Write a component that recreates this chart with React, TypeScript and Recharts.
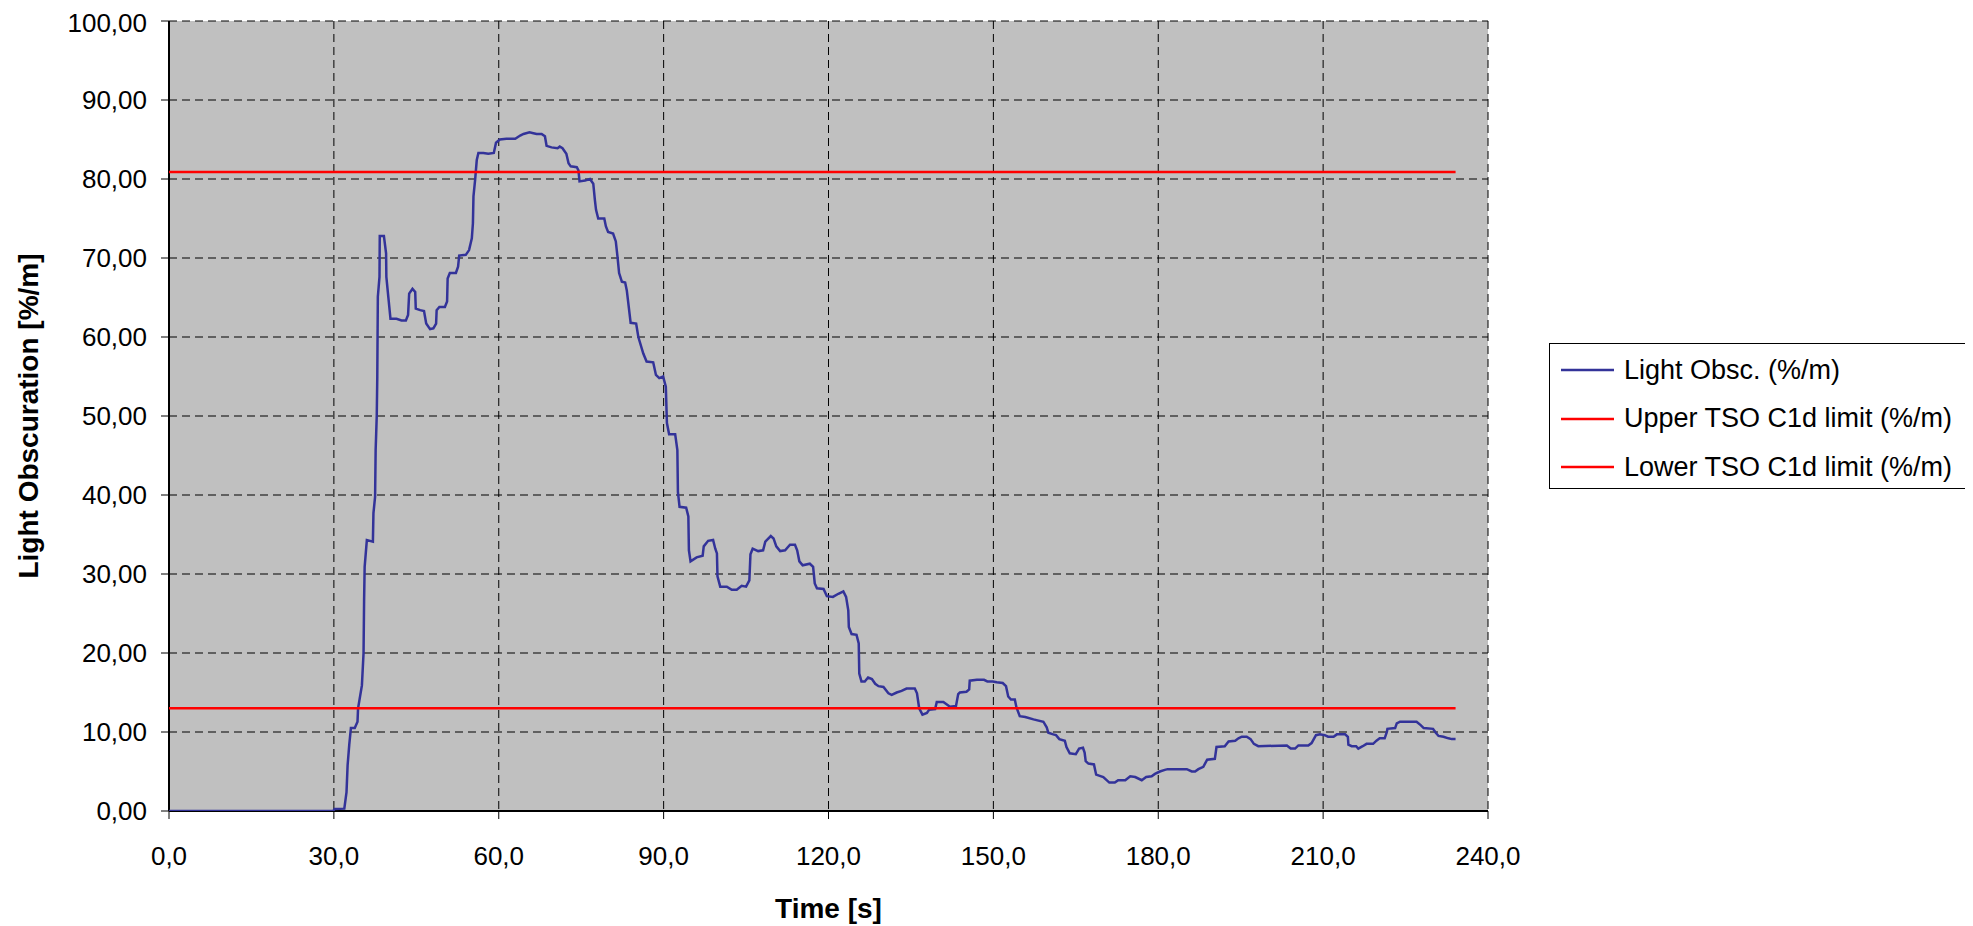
import React from 'react';
import { LineChart, Line, XAxis, YAxis, CartesianGrid, Legend } from 'recharts';

const timeSeconds = [
  0, 29.9, 30.1, 31.9, 32.3, 32.5, 32.8, 33.1, 33.8, 34.3, 34.4, 35.1, 35.4, 35.5, 35.6, 36.0, 37.1, 37.2, 37.5, 37.6,
  37.7, 37.8, 37.9, 38.0, 38.3, 38.35, 39.1, 39.5, 39.55, 39.9, 40.3, 41.4, 42.3, 43.1, 43.5, 43.7, 44.3, 44.8, 44.9, 45.7,
  46.4, 46.8, 47.5, 48.1, 48.6, 48.7, 49.2, 50.2, 50.6, 50.7, 51.1, 52.2, 52.6, 52.8, 54.0, 54.6, 55.1, 55.3, 55.4, 55.7,
  56.0, 56.3, 57.2, 58.1, 59.1, 59.5, 60.2, 61.4, 63.0, 63.9, 64.5, 65.6, 66.3, 66.9, 67.8, 68.4, 68.7, 69.6, 70.7, 71.1,
  71.6, 72.3, 72.7, 73.1, 74.2, 74.5, 74.7, 75.7, 76.6, 77.2, 77.5, 77.7, 78.1, 79.2, 79.5, 79.9, 80.8, 81.3, 81.6, 81.9,
  82.4, 83.0, 83.3, 84.0, 85.0, 85.4, 86.3, 86.9, 88.1, 88.6, 89.2, 89.9, 90.4, 90.6, 91.0, 92.1, 92.5, 92.6, 92.9, 94.1,
  94.5, 94.6, 94.9, 96.0, 97.1, 97.3, 98.1, 99.0, 99.4, 99.7, 99.8, 100.3, 101.5, 102.4, 103.3, 104.2, 105.0, 105.6, 105.8, 106.2,
  107.2, 108.1, 108.5, 109.5, 110.0, 110.5, 111.2, 112.1, 113.0, 113.9, 114.3, 114.7, 115.3, 116.6, 117.2, 117.5, 117.9, 119.1, 119.7, 120.8,
  121.8, 122.7, 123.2, 123.6, 123.7, 124.2, 125.1, 125.5, 125.6, 126.0, 126.6, 127.2, 127.9, 128.5, 129.1, 130.0, 130.9, 131.5, 132.4, 133.3,
  134.2, 135.7, 136.1, 136.5, 137.1, 137.9, 138.3, 139.4, 139.7, 140.9, 142.1, 143.2, 143.6, 143.9, 145.1, 145.6, 145.7, 147.0, 148.3, 148.9,
  149.9, 150.6, 151.7, 152.3, 152.7, 153.2, 153.9, 154.2, 154.8, 155.8, 157.3, 159.1, 159.7, 160.0, 160.9, 161.4, 162.0, 163.0, 163.3, 163.9,
  165.0, 165.6, 166.3, 166.6, 166.8, 167.3, 168.3, 168.7, 170.0, 171.1, 172.1, 172.7, 174.0, 174.9, 175.8, 177.0, 177.8, 178.8, 179.4, 180.3,
  181.2, 181.7, 185.2, 186.1, 186.7, 187.3, 188.2, 188.9, 190.3, 190.6, 192.1, 192.8, 194.0, 194.6, 195.2, 196.1, 196.8, 197.4, 198.2, 203.4,
  204.1, 204.9, 205.5, 207.3, 207.9, 208.7, 209.4, 210.3, 210.9, 211.9, 212.5, 214.0, 214.5, 214.6, 215.2, 216.0, 216.4, 217.2, 217.9, 219.1,
  219.7, 220.3, 221.2, 221.6, 221.7, 223.1, 223.4, 224.0, 227.0, 227.7, 228.3, 230.0, 230.5, 231.0, 231.9, 232.8, 233.4, 234.1,
];

const lightObscuration = [
  0, 0, 0.25, 0.3, 2.4, 5.8, 8.4, 10.5, 10.5, 11.3, 13.0, 15.9, 20.0, 26.7, 30.9, 34.3, 34.1, 37.7, 39.8, 45.7,
  47.8, 50.0, 55.0, 65.1, 67.6, 72.8, 72.8, 70.6, 67.6, 65.1, 62.3, 62.3, 62.1, 62.1, 62.8, 65.5, 66.1, 65.7, 63.6, 63.4,
  63.3, 61.7, 61.0, 61.1, 61.7, 63.4, 63.8, 63.8, 64.5, 67.4, 68.1, 68.1, 68.9, 70.3, 70.4, 71.0, 72.5, 74.4, 77.8, 79.9,
  82.4, 83.3, 83.3, 83.2, 83.3, 84.6, 85.0, 85.1, 85.1, 85.5, 85.7, 85.9, 85.8, 85.7, 85.7, 85.4, 84.2, 84.0, 83.9, 84.1,
  83.9, 83.2, 82.0, 81.6, 81.5, 81.1, 79.7, 79.8, 80.0, 79.4, 77.3, 76.1, 75.0, 75.0, 74.0, 73.3, 73.1, 72.1, 70.2, 68.1,
  67.0, 66.9, 65.9, 61.8, 61.7, 60.0, 57.9, 56.9, 56.8, 55.2, 54.8, 55.0, 53.7, 49.1, 47.7, 47.7, 45.7, 40.4, 38.5, 38.4,
  37.3, 33.0, 31.6, 32.1, 32.3, 33.5, 34.2, 34.3, 33.2, 32.6, 29.7, 28.4, 28.4, 28.0, 28.0, 28.5, 28.4, 29.2, 32.5, 33.2,
  32.9, 33.0, 34.1, 34.8, 34.5, 33.5, 32.9, 33.0, 33.7, 33.7, 33.0, 31.6, 31.1, 31.3, 30.9, 28.8, 28.2, 28.1, 27.2, 27.1,
  27.5, 27.8, 27.1, 25.4, 23.3, 22.4, 22.3, 21.2, 17.4, 16.4, 16.4, 16.9, 16.7, 16.1, 15.8, 15.7, 14.9, 14.7, 15.0, 15.2,
  15.5, 15.5, 14.9, 13.0, 12.2, 12.4, 12.8, 12.9, 13.8, 13.8, 13.2, 13.3, 14.8, 15.0, 15.1, 15.4, 16.5, 16.6, 16.6, 16.4,
  16.4, 16.3, 16.2, 15.8, 14.5, 14.1, 14.1, 13.1, 12.0, 11.9, 11.6, 11.3, 10.6, 9.9, 9.7, 9.6, 9.1, 8.9, 8.1, 7.3,
  7.2, 7.9, 8.0, 7.4, 6.3, 6.0, 5.9, 4.6, 4.3, 3.6, 3.6, 3.9, 3.9, 4.4, 4.3, 3.9, 4.3, 4.4, 4.7, 5.0,
  5.2, 5.3, 5.3, 5.0, 5.0, 5.3, 5.6, 6.5, 6.6, 8.1, 8.2, 8.8, 8.9, 9.2, 9.4, 9.4, 9.1, 8.5, 8.2, 8.3,
  7.9, 7.9, 8.3, 8.3, 8.6, 9.6, 9.7, 9.6, 9.4, 9.4, 9.7, 9.7, 9.4, 8.4, 8.2, 8.2, 7.9, 8.2, 8.5, 8.5,
  8.9, 9.2, 9.2, 10.0, 10.4, 10.5, 11.1, 11.3, 11.3, 10.9, 10.5, 10.4, 9.9, 9.5, 9.4, 9.2, 9.1, 9.1,
];

const limitTimes = [0, 234.1];
const upperLimit = [80.9, 80.9];
const lowerLimit = [13.0, 13.0];

const xTicks = [0, 30, 60, 90, 120, 150, 180, 210, 240];
const yTicks = [0, 10, 20, 30, 40, 50, 60, 70, 80, 90, 100];

const seriesNames = ['Light Obsc. (%/m)', 'Upper TSO C1d limit (%/m)', 'Lower TSO C1d limit (%/m)'];
const seriesColors = ['#333399', '#FF0000', '#FF0000'];

const xTitle = 'Time [s]';
const yTitle = 'Light Obscuration [%/m]';

const FONT = '"Liberation Sans", Arial, sans-serif';

const obscData = timeSeconds.map((t, i) => ({ t, v: lightObscuration[i] }));
const upperData = limitTimes.map((t, i) => ({ t, v: upperLimit[i] }));
const lowerData = limitTimes.map((t, i) => ({ t, v: lowerLimit[i] }));

const fmtX = (v: number) => v.toFixed(1).replace('.', ',');
const fmtY = (v: number) => v.toFixed(2).replace('.', ',');

const renderLegend = () => (
  <div
    style={{
      border: '1px solid #000',
      background: '#fff',
      width: 417,
      height: 142,
      paddingTop: 2,
      boxSizing: 'content-box',
      fontFamily: FONT,
      fontSize: 27,
      color: '#000',
    }}
  >
    {seriesNames.map((n, i) => (
      <div key={n} style={{ display: 'flex', alignItems: 'center', height: 48.5, whiteSpace: 'nowrap' }}>
        <svg width={74} height={10} style={{ flex: 'none' }}>
          <line x1={11} x2={64} y1={5} y2={5} stroke={seriesColors[i]} strokeWidth={2.5} />
        </svg>
        <span>{n}</span>
      </div>
    ))}
  </div>
);

const XTitle = (props: any) => {
  const vb = props.viewBox || {};
  return (
    <text
      x={vb.x + vb.width / 2}
      y={vb.y + 107}
      textAnchor="middle"
      fontFamily={FONT}
      fontWeight="bold"
      fontSize={28}
      fill="#000"
    >
      {xTitle}
    </text>
  );
};

const YTitle = (props: any) => {
  const vb = props.viewBox || {};
  const cx = vb.x + 30;
  const cy = vb.y + vb.height / 2;
  return (
    <text
      x={cx}
      y={cy}
      transform={`rotate(-90, ${cx}, ${cy})`}
      textAnchor="middle"
      fontFamily={FONT}
      fontWeight="bold"
      fontSize={28}
      fill="#000"
    >
      {yTitle}
    </text>
  );
};

export default function App() {
  return (
    <LineChart width={1965} height={918} margin={{ top: 13, right: 485, bottom: 0, left: 0 }}>
      <CartesianGrid stroke="#000" strokeDasharray="8 5" fill="#C0C0C0" fillOpacity={1} />
      <XAxis
        dataKey="t"
        type="number"
        domain={[0, 240]}
        ticks={xTicks}
        allowDataOverflow
        height={115}
        tickSize={8}
        tickMargin={28}
        tickFormatter={fmtX}
        axisLine={{ stroke: '#000', strokeWidth: 2 }}
        tickLine={{ stroke: '#000', strokeWidth: 1 }}
        tick={{ fill: '#000', fontSize: 26, fontFamily: FONT }}
        label={<XTitle />}
      />
      <XAxis
        xAxisId="top"
        orientation="top"
        type="number"
        domain={[0, 240]}
        height={0}
        tick={false}
        tickLine={false}
        axisLine={{ stroke: '#808080', strokeWidth: 2 }}
      />
      <YAxis
        type="number"
        domain={[0, 100]}
        ticks={yTicks}
        allowDataOverflow
        width={161}
        tickSize={8}
        tickMargin={14}
        tickFormatter={fmtY}
        axisLine={{ stroke: '#000', strokeWidth: 2 }}
        tickLine={{ stroke: '#000', strokeWidth: 1 }}
        tick={{ fill: '#000', fontSize: 26, fontFamily: FONT }}
        label={<YTitle />}
      />
      <YAxis
        yAxisId="right"
        orientation="right"
        type="number"
        domain={[0, 100]}
        width={0}
        tick={false}
        tickLine={false}
        axisLine={{ stroke: '#808080', strokeWidth: 2 }}
      />
      <Legend
        layout="vertical"
        align="center"
        verticalAlign="middle"
        wrapperStyle={{ left: 1541, top: 335, width: 'auto', height: 'auto' }}
        content={renderLegend}
      />
      <Line
        data={obscData}
        dataKey="v"
        name={seriesNames[0]}
        type="linear"
        stroke={seriesColors[0]}
        strokeWidth={2.5}
        dot={false}
        activeDot={false}
        isAnimationActive={false}
        zIndex={700}
      />
      <Line
        data={upperData}
        dataKey="v"
        name={seriesNames[1]}
        type="linear"
        stroke={seriesColors[1]}
        strokeWidth={2.5}
        dot={false}
        activeDot={false}
        isAnimationActive={false}
        zIndex={700}
      />
      <Line
        data={lowerData}
        dataKey="v"
        name={seriesNames[2]}
        type="linear"
        stroke={seriesColors[2]}
        strokeWidth={2.5}
        dot={false}
        activeDot={false}
        isAnimationActive={false}
        zIndex={700}
      />
    </LineChart>
  );
}
